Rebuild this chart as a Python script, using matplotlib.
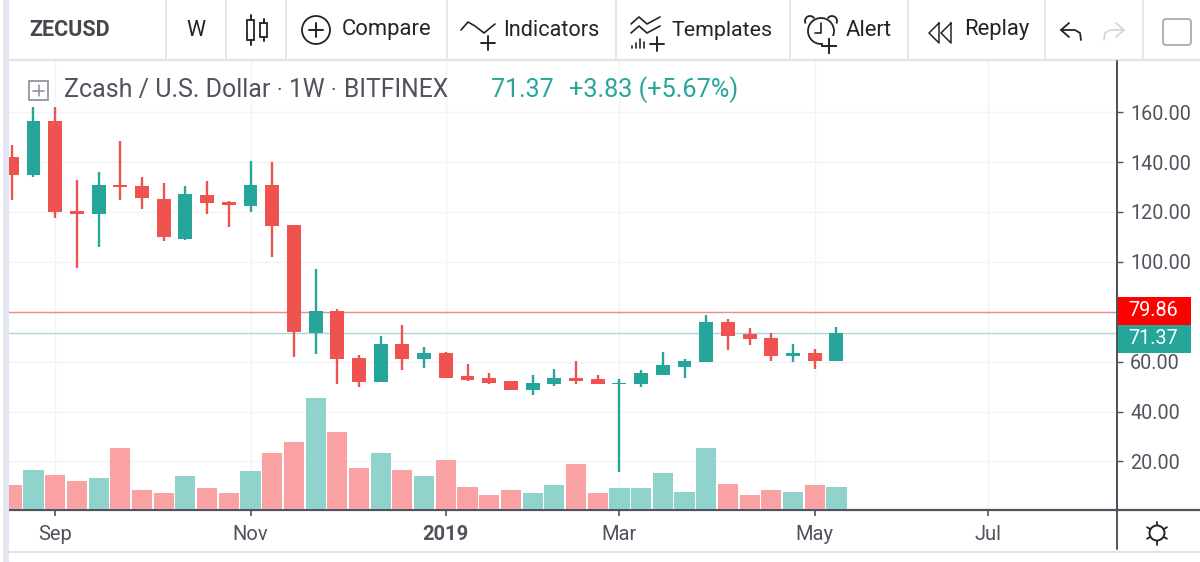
import matplotlib
matplotlib.use("Agg")
import matplotlib.pyplot as plt
from matplotlib.patches import Circle, Rectangle, FancyBboxPatch, Arc
import numpy as np

plt.rcParams['font.family'] = ['Roboto', 'DejaVu Sans']

# weekly candles
opens = [142.1, 134.9, 156.5, 120.4, 119.2, 131.0, 130.4, 125.3, 109.1, 126.6, 124.1, 122.4, 130.9,
         114.7, 71.6, 80.3, 61.6, 51.7, 67.2, 61.1, 63.5, 54.1, 53.4, 52.1, 48.5, 51.0,
         53.4, 52.9, 50.9, 51.0, 54.8, 57.9, 59.9, 75.9, 71.0, 69.6, 62.4, 63.3, 60.4]
closes = [134.9, 156.5, 120.0, 119.2, 130.9, 129.9, 125.4, 109.8, 127.2, 123.7, 122.9, 130.9, 114.2,
          71.8, 80.3, 61.1, 51.7, 67.2, 61.1, 63.5, 53.6, 52.8, 51.6, 48.5, 51.6, 53.4,
          52.2, 51.0, 51.6, 55.3, 58.5, 60.4, 75.9, 70.4, 69.1, 62.4, 63.3, 60.4, 71.37]
highs = [146.8, 162.1, 162.1, 132.8, 135.9, 148.4, 134.1, 131.5, 130.4, 132.3, 124.5, 140.4, 139.9,
         114.9, 97.1, 81.0, 62.8, 70.3, 74.7, 66.0, 64.0, 58.9, 55.3, 52.1, 54.6, 57.2,
         60.3, 54.6, 52.9, 56.7, 64.0, 60.9, 78.6, 77.2, 73.5, 71.6, 67.1, 65.2, 74.0]
lows = [124.8, 134.1, 117.4, 97.4, 106.1, 124.8, 121.0, 108.5, 108.7, 119.2, 114.1, 119.8, 101.8,
        61.7, 62.9, 51.0, 50.0, 51.7, 56.7, 57.3, 53.6, 52.2, 51.0, 48.5, 46.6, 50.4,
        51.0, 50.9, 15.9, 49.7, 54.8, 53.4, 59.9, 64.7, 66.7, 60.4, 59.9, 57.2, 60.4]
volumes = [23.3, 39, 34, 28, 31, 60.7, 18.7, 15.7, 32.7, 20.3, 15.7, 37.3, 56,
           67, 110.7, 76.3, 40.3, 56, 39, 32.7, 48.3, 21.7, 14, 18.7, 15.7, 23.3,
           45, 15.7, 20.3, 20.3, 35.7, 17, 60.7, 25, 14, 18.7, 17, 23.3, 21.7]

price_ticks = [20, 40, 60, 80, 100, 120, 140, 160]
date_ticks = [2, 11, 20, 28, 37, 45]
date_labels = ["Sep", "Nov", "2019", "Mar", "May", "Jul"]
last_high = 79.86
last_price = 71.37

RED = "#ef5350"
GREEN = "#26a69a"
TEXT = "#50535e"

fig = plt.figure(figsize=(12, 5.62), dpi=100)

def box(x0, y0, x1, y1):
    return [x0 / 1200, 1 - y1 / 562, (x1 - x0) / 1200, (y1 - y0) / 562]

ax = fig.add_axes(box(9, 61, 1117, 510))
ax_vol = ax.twinx()
ax_vol.patch.set_alpha(0)

idx = np.arange(len(opens))
up = [c >= o for o, c in zip(opens, closes)]
colors = [GREEN if u else RED for u in up]

# price axis
ax.vlines(idx, lows, highs, color=colors, linewidth=1.7, zorder=3)
ax.bar(idx, np.abs(np.array(closes) - np.array(opens)), bottom=np.minimum(opens, closes),
       width=0.64, color=colors, zorder=4)
ax.set_xlim(-0.129, 50.93)
ax.set_ylim(0.56, 180.5)
ax.yaxis.tick_right()
ax.set_yticks(price_ticks)
# 80.00 sits under the red price label in the original
ax.set_yticklabels(["" if p == 80 else f"{p:.2f}" for p in price_ticks], color=TEXT, fontsize=14.2)
ax.tick_params(axis="y", length=4, width=1.0, color=TEXT, pad=5.4)
ax.set_xticks(date_ticks)
ax.set_xticklabels(date_labels, color=TEXT, fontsize=14.5)
ax.get_xticklabels()[2].set_fontweight("bold")
ax.tick_params(axis="x", length=4.5, width=1.2, color=TEXT, pad=6.5)
ax.grid(color="#f1f3f6", linewidth=1, zorder=0)
ax.set_axisbelow(True)
ax.axhline(last_high, color="#ee8a8a", linewidth=1, zorder=2)
ax.axhline(last_price, color="#a5dcd6", linewidth=1, zorder=2)

# volume bars sit above the grid
ax_vol.bar(idx, volumes, width=0.93, color=["#8fd3cc" if u else "#faa2a3" for u in up], zorder=2)
ax_vol.set_ylim(-1.5, 447.5)
ax_vol.set_yticks([])

ax.spines["top"].set_visible(False)
ax.spines["left"].set_visible(False)
ax.spines["right"].set_color(TEXT)
ax.spines["right"].set_linewidth(1.4)
ax.spines["bottom"].set_color(TEXT)
ax.spines["bottom"].set_linewidth(1.6)
for s in ax_vol.spines.values():
    s.set_visible(False)

# overlay in pixels for toolbar and labels
ov = fig.add_axes([0, 0, 1, 1], zorder=10)
ov.set_xlim(0, 1200)
ov.set_ylim(562, 0)
ov.axis("off")
ov.patch.set_alpha(0)

DARK = "#222428"
LINE = "#e0e3eb"

def seg(xs, ys, c=DARK, lw=1.4):
    ov.plot(xs, ys, color=c, linewidth=lw, solid_capstyle="round")

# frame pieces
ov.add_patch(Rectangle((3, 0), 6, 562, color="#e3e5f1", lw=0))
seg([9, 1200], [60, 60], LINE, 1.6)
seg([9, 1200], [552, 552], LINE, 1.6)
seg([1117, 1200], [510, 510], TEXT, 1.6)
seg([1117, 1117], [61, 549], TEXT, 1.4)
for sx in [166, 226, 286, 447, 616, 790, 908, 1045, 1143]:
    seg([sx, sx], [0, 60], LINE, 1.2)

# toolbar text
ov.text(29, 30, "ZECUSD", fontsize=15.5, fontweight="bold", color="#45474d", va="center")
ov.text(196, 30, "W", fontsize=15.5, color=DARK, va="center", ha="center")
ov.text(342, 30, "Compare", fontsize=15.8, color=DARK, va="center")
ov.text(503, 30, "Indicators", fontsize=15.6, color=DARK, va="center")
ov.text(672, 30, "Templates", fontsize=15.4, color=DARK, va="center")
ov.text(846, 30, "Alert", fontsize=15.9, color=DARK, va="center")
ov.text(964, 30, "Replay", fontsize=15.8, color=DARK, va="center")

# chart type icon
seg([250.5, 250.5], [15, 20]); seg([250.5, 250.5], [40, 45])
ov.add_patch(Rectangle((247, 20), 7, 20, fill=False, ec=DARK, lw=1.3))
seg([263.5, 263.5], [19, 23]); seg([263.5, 263.5], [37, 41])
ov.add_patch(Rectangle((260, 23), 7, 14, fill=False, ec=DARK, lw=1.3))

# compare icon
ov.add_patch(Circle((316, 30), 14, fill=False, ec=DARK, lw=1.3))
seg([309, 323], [30, 30])
seg([316, 316], [23, 37])

# indicators icon
seg([461, 468, 475, 484, 495], [30, 22, 26, 33, 24], DARK, 1.2)
seg([481, 495], [43, 43])
seg([488, 488], [36, 50])

# templates icon
seg([631, 639, 647, 660], [24, 17, 24, 17], DARK, 1.2)
seg([631, 639, 647, 660], [33, 26, 33, 26], DARK, 1.2)
seg([650, 664], [44, 44]); seg([657, 657], [37, 51])
for bx, bh in zip([632, 636, 640, 644], [2, 5, 9, 6]):
    seg([bx, bx], [48, 48 - bh], DARK, 1.2)

# alert icon
ov.add_patch(Circle((821, 31), 13, fill=False, ec=DARK, lw=1.3))
seg([821, 821, 815], [23, 33, 33], DARK, 1.2)
ov.add_patch(Arc((810, 21), 10, 10, theta1=150, theta2=330, ec=DARK, lw=1.3))
ov.add_patch(Arc((832, 21), 10, 10, theta1=210, theta2=30, ec=DARK, lw=1.3))
ov.add_patch(Rectangle((823, 36), 16, 18, color="white", lw=0, zorder=3))
ov.plot([822, 836], [46, 46], color=DARK, lw=1.4, zorder=4)
ov.plot([829, 829], [39, 53], color=DARK, lw=1.4, zorder=4)

# replay icon
seg([939, 929, 939, 939], [23, 33, 43, 23], DARK, 1.1)
seg([951, 941, 951, 951], [23, 33, 43, 23], DARK, 1.1)

# undo and redo
seg([1069, 1061, 1069], [23, 30, 37], DARK, 1.3)
seg([1061, 1075, 1080, 1081], [30, 30, 33, 40], DARK, 1.3)
seg([1116, 1124, 1116], [23, 30, 37], "#d5d7dd", 1.3)
seg([1124, 1110, 1105, 1104], [30, 30, 33, 40], "#d5d7dd", 1.3)

# square button
ov.add_patch(FancyBboxPatch((1163, 19), 28, 26, boxstyle="round,pad=0,rounding_size=3",
                            fill=False, ec="#aeb0b6", lw=1.4))

# legend line
ov.add_patch(Rectangle((29, 81), 19, 19, fill=False, ec="#8a8d95", lw=1.2))
seg([33, 44], [90.5, 90.5], "#8a8d95", 1.1)
seg([38.5, 38.5], [85, 96], "#8a8d95", 1.1)
ov.text(64, 90, "Zcash / U.S. Dollar", fontsize=18, color=TEXT, va="center")
ov.text(276, 90, "·", fontsize=15, color=TEXT, va="center")
ov.text(289, 90, "1W", fontsize=17.7, color=TEXT, va="center")
ov.text(331, 90, "·", fontsize=15, color=TEXT, va="center")
ov.text(344, 90, "BITFINEX", fontsize=17.7, color=TEXT, va="center")
ov.text(491, 90, "71.37", fontsize=18, color=GREEN, va="center")
ov.text(569, 90, "+3.83 (+5.67%)", fontsize=18.2, color=GREEN, va="center")

# price labels on the axis
ov.add_patch(Rectangle((1116, 297), 75, 28, color="#ff0000", lw=0))
ov.add_patch(Rectangle((1116, 325), 75, 28, color=GREEN, lw=0))
ov.text(1153, 311, f"{last_high:.2f}", fontsize=14.2, color="white", ha="center", va="center")
ov.text(1153, 339, f"{last_price:.2f}", fontsize=14.2, color="white", ha="center", va="center")

# settings icon
ov.add_patch(Circle((1157, 533), 7.5, fill=False, ec=DARK, lw=1.4))
for ang in np.deg2rad(np.arange(0, 360, 60) + 30):
    seg([1157 + 8 * np.cos(ang), 1157 + 11.5 * np.cos(ang)],
        [533 + 8 * np.sin(ang), 533 + 11.5 * np.sin(ang)], DARK, 1.3)

fig.savefig("out.png", dpi=100, facecolor="white")
